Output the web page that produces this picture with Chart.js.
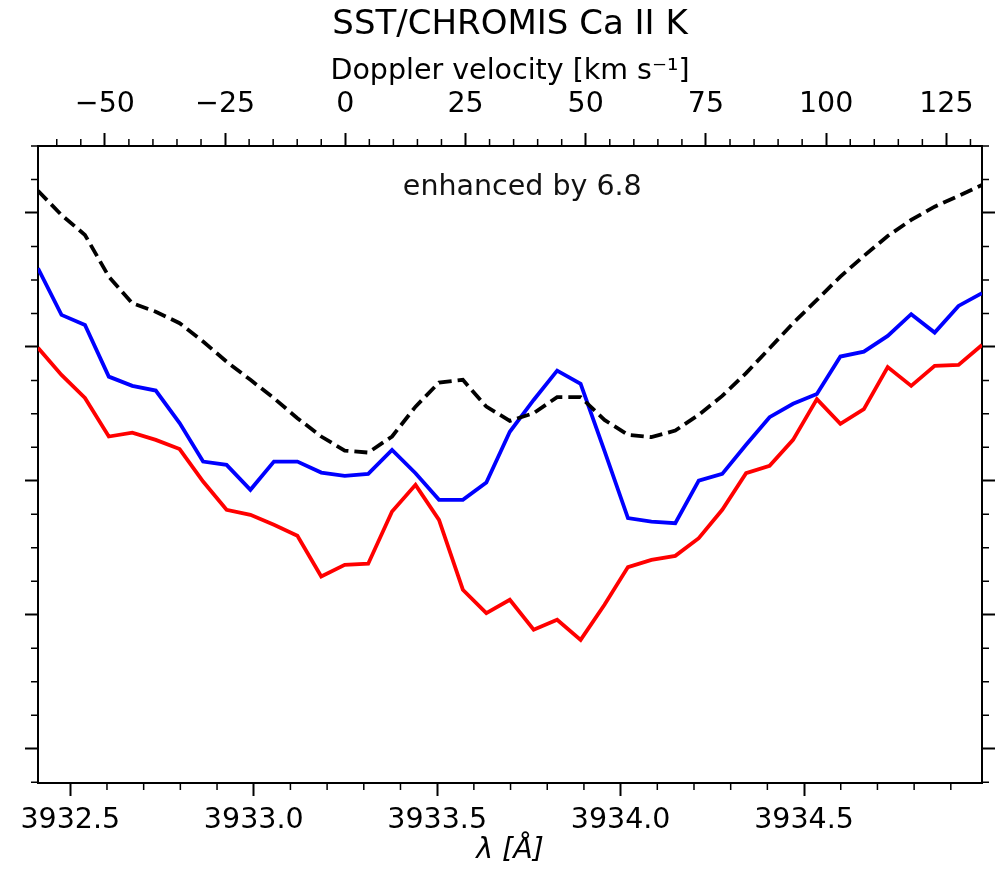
<!DOCTYPE html>
<html>
<head>
<meta charset="utf-8">
<script src="https://cdn.jsdelivr.net/npm/chart.js@4.4.0/dist/chart.umd.min.js"></script>
<style>
html, body { margin: 0; padding: 0; background: #fff; }
#wrap { width: 996px; height: 871px; }
</style>
</head>
<body>
<div id="wrap"><canvas id="myChart" width="996" height="871"></canvas></div>
<script>
// wavelength samples [A]
var wavelength = [3932.412, 3932.476, 3932.540, 3932.605, 3932.669, 3932.733, 3932.798, 3932.862, 3932.926, 3932.991,
                  3933.055, 3933.119, 3933.184, 3933.248, 3933.312, 3933.377, 3933.441, 3933.505, 3933.570, 3933.634,
                  3933.698, 3933.763, 3933.827, 3933.891, 3933.956, 3934.020, 3934.084, 3934.149, 3934.213, 3934.277,
                  3934.342, 3934.406, 3934.470, 3934.535, 3934.599, 3934.663, 3934.728, 3934.792, 3934.856, 3934.921,
                  3934.985];

var red_profile = [2.993, 2.791, 2.619, 2.331, 2.360, 2.306, 2.237, 1.995, 1.784, 1.746,
                   1.672, 1.590, 1.286, 1.373, 1.381, 1.771, 1.970, 1.709, 1.187, 1.013,
                   1.112, 0.888, 0.963, 0.813, 1.075, 1.356, 1.410, 1.440, 1.572, 1.784,
                   2.057, 2.112, 2.306, 2.610, 2.425, 2.535, 2.849, 2.709, 2.858, 2.866,
                   3.015];

var blue_profile = [3.587, 3.239, 3.164, 2.778, 2.709, 2.674, 2.431, 2.144, 2.119, 1.933,
                    2.144, 2.144, 2.062, 2.037, 2.052, 2.231, 2.057, 1.858, 1.858, 1.987,
                    2.366, 2.604, 2.823, 2.724, 2.224, 1.722, 1.696, 1.684, 2.002, 2.052,
                    2.269, 2.475, 2.575, 2.649, 2.928, 2.965, 3.082, 3.244, 3.107, 3.306,
                    3.401];

var black_profile = [4.166, 3.985, 3.836, 3.525, 3.326, 3.263, 3.177, 3.040, 2.890, 2.754,
                     2.617, 2.468, 2.331, 2.226, 2.211, 2.331, 2.554, 2.734, 2.754, 2.554,
                     2.448, 2.505, 2.625, 2.625, 2.455, 2.343, 2.326, 2.375, 2.493, 2.634,
                     2.804, 2.990, 3.177, 3.351, 3.525, 3.679, 3.828, 3.948, 4.047, 4.127,
                     4.209];

var lambda_min = 3932.412, lambda_max = 3934.985;
var velocity_min = -63.9, velocity_max = 132.4;
var level_min = -0.256, level_max = 4.5;

var chart_title = 'SST/CHROMIS Ca II K';
var top_axis_title = 'Doppler velocity [km s\u207B\u00B9]';
var bottom_axis_title = '\u03BB [\u00C5]';
var note_text = 'enhanced by 6.8';
var note_lambda = 3933.732, note_level = 4.19;

var font_family = "'DejaVu Sans', sans-serif";

function is_major(axis_id, v)
{
    if (axis_id === 'x') return Math.abs(v * 2 - Math.round(v * 2)) < 1e-6;
    if (axis_id === 'x2') return Math.abs(v / 25 - Math.round(v / 25)) < 1e-6;
    return Math.abs(v - Math.round(v)) < 1e-6;
}

function to_points(values)
{
    return wavelength.map((w, i) => ({x: w, y: values[i]}));
}

function tick_grid(axis_id)
{
    return {
        display: true,
        drawOnChartArea: false,
        drawTicks: true,
        tickLength: 13,
        tickWidth: 2,
        tickColor: ctx => is_major(axis_id, ctx.tick.value) ? '#000' : 'rgba(0,0,0,0)'
    };
}

// short minor ticks, placed with the scales' own pixel mapping
const minor_ticks = {
    id: 'minorTicks',
    afterDraw(chart) {
        const ctx = chart.ctx;
        const area = chart.chartArea;
        ctx.save();
        ctx.strokeStyle = '#000';
        ctx.lineWidth = 1.5;
        ctx.beginPath();
        Object.values(chart.scales).forEach(scale => {
            scale.ticks.forEach(t => {
                if (is_major(scale.id, t.value)) return;
                const p = scale.getPixelForValue(t.value);
                if (scale.id === 'x') { ctx.moveTo(p, area.bottom); ctx.lineTo(p, area.bottom + 7); }
                if (scale.id === 'x2') { ctx.moveTo(p, area.top); ctx.lineTo(p, area.top - 7); }
                if (scale.id === 'y') { ctx.moveTo(area.left, p); ctx.lineTo(area.left - 7, p); }
                if (scale.id === 'y2') { ctx.moveTo(area.right, p); ctx.lineTo(area.right + 7, p); }
            });
        });
        ctx.stroke();
        ctx.restore();
    }
};

const note_label = {
    id: 'noteLabel',
    afterDatasetsDraw(chart) {
        const ctx = chart.ctx;
        ctx.save();
        ctx.font = '28.5px ' + font_family;
        ctx.fillStyle = '#111';
        ctx.textAlign = 'center';
        ctx.textBaseline = 'middle';
        ctx.fillText(note_text, chart.scales.x.getPixelForValue(note_lambda), chart.scales.y.getPixelForValue(note_level));
        ctx.restore();
    }
};

var ctx = document.getElementById('myChart').getContext('2d');

var chart = new Chart(ctx, {
    type: 'line',
    data: {
        datasets: [
            {
                label: 'dashed',
                data: to_points(black_profile),
                borderColor: '#000',
                borderWidth: 3.8,
                borderDash: [13, 6],
                pointRadius: 0,
                tension: 0
            },
            {
                label: 'blue',
                data: to_points(blue_profile),
                borderColor: '#0000ff',
                borderWidth: 3.8,
                pointRadius: 0,
                tension: 0
            },
            {
                label: 'red',
                data: to_points(red_profile),
                borderColor: '#ff0000',
                borderWidth: 3.8,
                pointRadius: 0,
                tension: 0
            }
        ]
    },
    options: {
        responsive: false,
        animation: false,
        devicePixelRatio: 1,
        layout: { padding: 0 },
        plugins: {
            legend: { display: false },
            tooltip: { enabled: false },
            title: {
                display: true,
                text: chart_title,
                fullSize: false,
                color: '#000',
                font: { family: font_family, size: 34, weight: 'normal' },
                padding: { top: 5, bottom: 0 }
            }
        },
        scales: {
            x: {
                type: 'linear',
                position: 'bottom',
                min: lambda_min,
                max: lambda_max,
                grid: tick_grid('x'),
                border: { display: true, color: '#000', width: 2 },
                ticks: {
                    stepSize: 0.1,
                    includeBounds: false,
                    autoSkip: false,
                    maxRotation: 0,
                    padding: 7,
                    color: '#000',
                    font: { family: font_family, size: 28.5 },
                    callback: v => is_major('x', v) ? v.toFixed(1) : ''
                },
                title: {
                    display: true,
                    text: bottom_axis_title,
                    color: '#000',
                    font: { family: font_family, size: 28.5, style: 'italic' },
                    padding: { top: 0, bottom: 3 }
                },
                afterFit: scale => { scale.height = 88; }
            },
            x2: {
                type: 'linear',
                position: 'top',
                min: velocity_min,
                max: velocity_max,
                grid: tick_grid('x2'),
                border: { display: true, color: '#000', width: 2 },
                ticks: {
                    stepSize: 5,
                    includeBounds: false,
                    autoSkip: false,
                    maxRotation: 0,
                    padding: 11,
                    color: '#000',
                    font: { family: font_family, size: 28.5 },
                    callback: v => is_major('x2', v) ? (v < 0 ? '\u2212' + Math.abs(v) : String(v)) : ''
                },
                title: {
                    display: true,
                    text: top_axis_title,
                    color: '#000',
                    font: { family: font_family, size: 28.5 },
                    padding: { top: 9, bottom: 0 }
                },
                afterFit: scale => { scale.height = 100.2; }
            },
            y: {
                type: 'linear',
                position: 'left',
                min: level_min,
                max: level_max,
                grid: tick_grid('y'),
                border: { display: true, color: '#000', width: 2 },
                ticks: { stepSize: 0.25, includeBounds: false, display: false },
                afterFit: scale => { scale.width = 38; }
            },
            y2: {
                type: 'linear',
                position: 'right',
                min: level_min,
                max: level_max,
                grid: tick_grid('y2'),
                border: { display: true, color: '#000', width: 2 },
                ticks: { stepSize: 0.25, includeBounds: false, display: false },
                afterFit: scale => { scale.width = 14; }
            }
        }
    },
    plugins: [minor_ticks, note_label]
});
</script>
</body>
</html>
